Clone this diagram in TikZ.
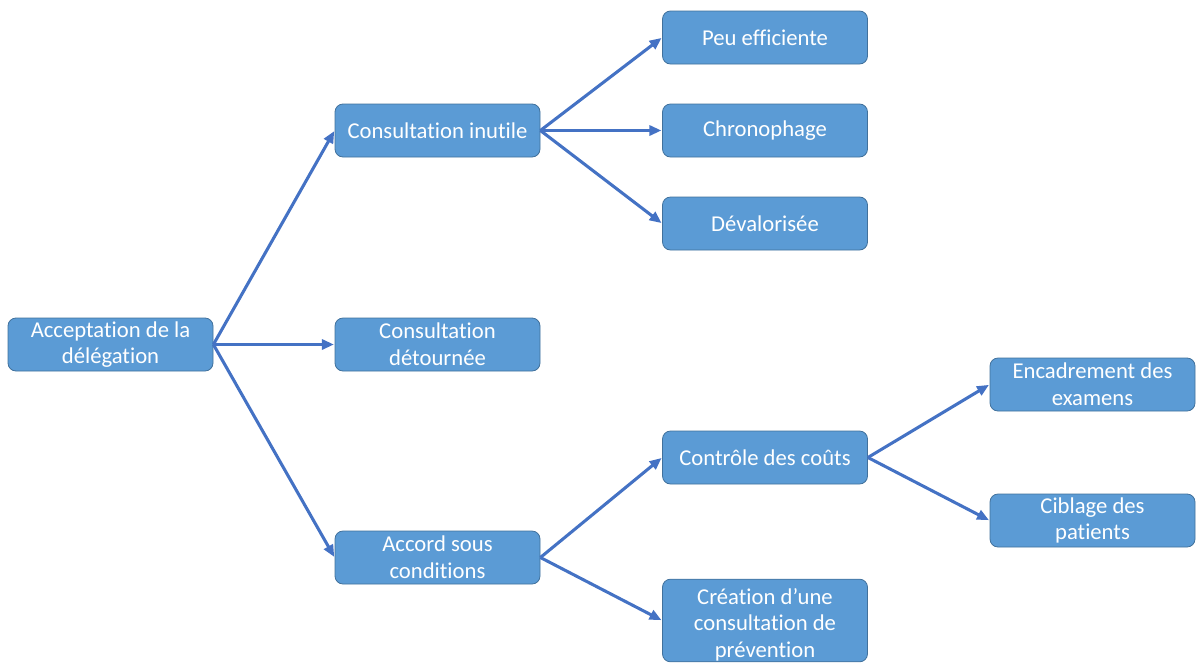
\documentclass[tikz,border=0pt]{standalone}
\usepackage{fontspec}
\setmainfont[Ligatures=CommonOff]{Carlito}
\usetikzlibrary{arrows.meta}
\definecolor{boxfill}{HTML}{5B9BD5}
\definecolor{boxline}{HTML}{41719C}
\definecolor{linkcol}{HTML}{4472C4}
\begin{document}
\begin{tikzpicture}[x=0.75pt,y=-0.75pt,
  boxtext/.style={text=white, align=center, inner sep=0pt, font=\fontsize{17}{20}\selectfont},
  box/.style={boxtext, draw=boxline, line width=0.6pt, fill=boxfill, rounded corners=6pt,
    minimum width=153.75pt, minimum height=39.75pt},
  link/.style={draw=linkcol, line width=2.3pt, -{Triangle[length=9pt,width=7.5pt]}, shorten >=0.5pt}]
\useasboundingbox (0,0) rectangle (1198,664);
% root
\node[box] (acc) at (110.5,344.5) {Acceptation de la\\délégation};
% second level
\node[box] (inut) at (437.5,130.5) {Consultation inutile};
\node[box] (detour) at (437.5,344.5) {Consultation\\détournée};
\node[box] (cond) at (437.5,557.5) {Accord sous\\conditions};
% third level
\node[box] (peu) at (765,37.5) {Peu efficiente};
\node[box] (chrono) at (765,130.5) {Chronophage};
\node[box] (deval) at (765,223.5) {Dévalorisée};
\node[box] (couts) at (765,457.5) {Contrôle des coûts};
\node[box, minimum height=62pt] (prev) at (765,620.5) {};
\node[boxtext] (prevtext) at ([yshift=-3pt]prev.center) {Création d’une\\consultation de\\prévention};
% fourth level
\node[box] (exam) at (1092.5,384.5) {Encadrement des\\examens};
\node[box] (cible) at (1092.5,520.5) {Ciblage des\\patients};
% connectors
\draw[link] (acc.east) -- (inut.west);
\draw[link] (acc.east) -- (detour.west);
\draw[link] (acc.east) -- (cond.west);
\draw[link] (inut.east) -- (peu.west);
\draw[link] (inut.east) -- (chrono.west);
\draw[link] (inut.east) -- (deval.west);
\draw[link] (cond.east) -- (couts.west);
\draw[link] (cond.east) -- (prev.west);
\draw[link] (couts.east) -- (exam.west);
\draw[link] (couts.east) -- (cible.west);
\end{tikzpicture}
\end{document}
